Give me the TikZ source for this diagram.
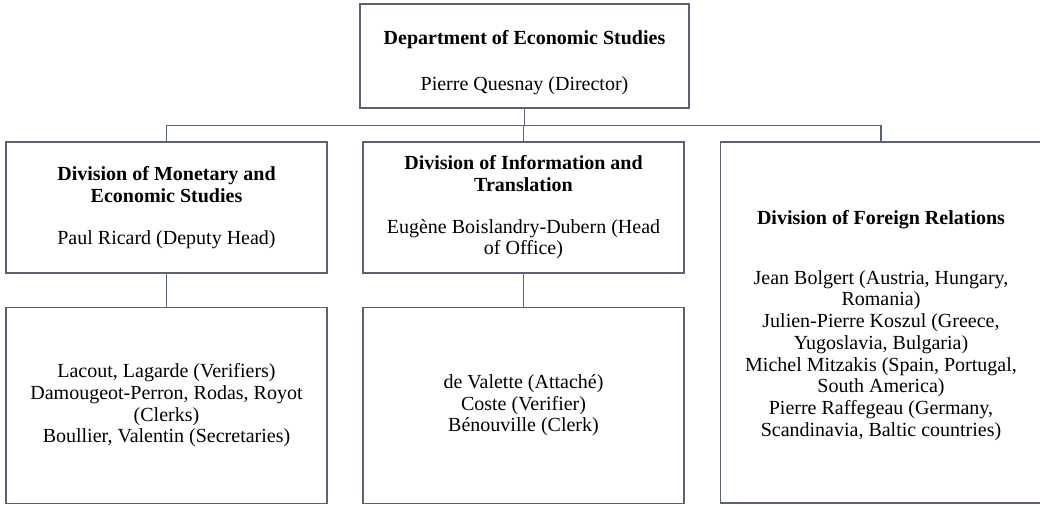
\documentclass[tikz,border=0pt]{standalone}
\usepackage{fontspec}
\setmainfont{Liberation Serif}
\usetikzlibrary{positioning}
\definecolor{linegray}{RGB}{88,99,117}
\begin{document}
\begin{tikzpicture}[
  x=1pt, y=1pt,
  block/.style={rectangle, draw=linegray, line width=1.3pt, fill=white, align=center,
    minimum width=321pt, font=\fontsize{20}{21.7}\selectfont},
  link/.style={draw=linegray, line width=1.3pt},
  node distance=33pt
]
\useasboundingbox (0,0) rectangle (1040,-504);
% Department
\node[block, minimum width=329pt, minimum height=104pt] (dept) at (524.5,-56)
  {\rule{0pt}{28pt}\textbf{Department of Economic Studies}\\[24pt]Pierre Quesnay (Director)};

% Divisions
\node[block, minimum height=131pt] (monetary) at (166.5,-207.5)
  {\textbf{Division of Monetary and}\\\textbf{Economic Studies}\\[20pt]Paul Ricard (Deputy Head)};
\node[block, minimum height=131pt] (info) at (523.5,-207.5)
  {\textbf{Division of Information and}\\\textbf{Translation}\\[20pt]Eugène Boislandry-Dubern (Head\\of Office)};
\node[block, minimum height=361pt] (foreign) at (881,-322.5)
  {\rule{0pt}{20pt}\textbf{Division of Foreign Relations}\\[38pt]Jean Bolgert (Austria, Hungary,\\Romania)\\Julien-Pierre Koszul (Greece,\\Yugoslavia, Bulgaria)\\Michel Mitzakis (Spain, Portugal,\\South America)\\Pierre Raffegeau (Germany,\\Scandinavia, Baltic countries)};

% Staff
\node[block, minimum height=196pt, below=of monetary] (monstaff)
  {Lacout, Lagarde (Verifiers)\\Damougeot-Perron, Rodas, Royot\\(Clerks)\\Boullier, Valentin (Secretaries)};
\node[block, minimum height=196pt, below=of info] (infostaff)
  {de Valette (Attaché)\\Coste (Verifier)\\Bénouville (Clerk)};

% Lines
\draw[link] (dept.south) -- ++(0,-17) coordinate (hub);
\draw[link] (monetary.north) |- (hub) -| (foreign.north);
\draw[link] (info.north) -- (info.north |- hub);
\draw[link] (monetary) -- (monstaff);
\draw[link] (info) -- (infostaff);
\end{tikzpicture}
\end{document}
